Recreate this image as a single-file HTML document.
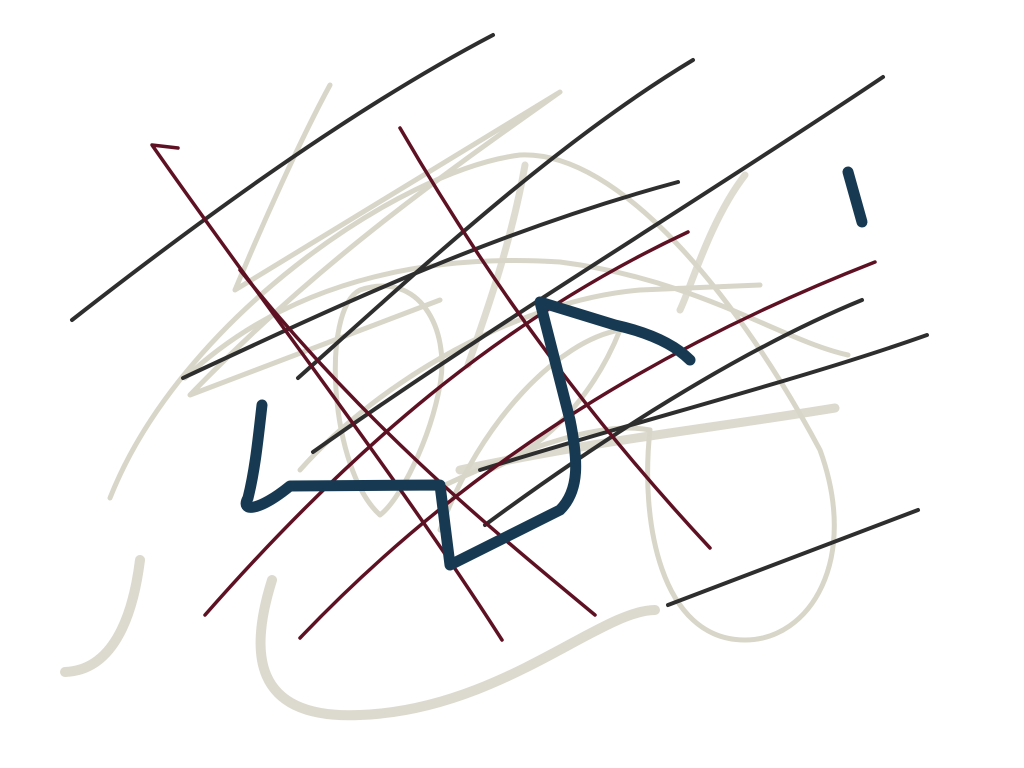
<!DOCTYPE html>
<html><head><meta charset="utf-8"><style>
html,body{margin:0;padding:0;background:#fff;width:1024px;height:768px;overflow:hidden}
svg{display:block}
</style></head><body>
<svg width="1024" height="768" viewBox="0 0 1024 768" fill="none" stroke-linecap="round" stroke-linejoin="round">
<g stroke="#d8d6c9" stroke-width="5">
<path d="M330,85 C300,140 260,230 235,290 L560,92 C450,170 320,260 190,395 L440,300"/>
<path d="M110,498 C180,320 400,170 520,155 C620,150 740,300 820,450 C860,560 810,640 745,640 C660,640 640,520 650,430 C600,420 520,450 445,485"/>
<path d="M185,378 C300,270 450,255 560,262 C700,280 780,340 848,355"/>
<path d="M380,515 C330,470 320,310 360,290 C420,270 450,330 440,385 C430,440 400,500 380,515"/>
<path d="M300,470 C380,380 520,300 640,290 L760,285"/>
<path d="M440,530 C480,420 560,340 620,330 C600,380 560,440 490,470"/>
<path stroke-width="7" opacity="0.85" d="M745,175 C710,220 690,290 680,310 M525,165 C510,250 480,330 468,365"/>
<path stroke-width="9" opacity="0.9" d="M460,470 C600,440 700,430 835,408"/>
<path stroke-width="10" opacity="0.9" d="M65,672 C120,670 135,600 140,560 M272,580 C250,650 250,720 360,715 C500,710 600,610 655,610"/>
</g>
<g stroke="#2e2e2e" stroke-width="4">
<path d="M72,320 C200,220 350,110 493,35"/>
<path d="M298,378 C430,260 560,140 693,60"/>
<path d="M183,378 C350,300 500,230 678,182"/>
<path d="M313,452 C500,320 700,200 883,77"/>
<path d="M485,525 C600,440 740,350 862,300"/>
<path d="M480,470 C640,420 800,380 927,335"/>
<path d="M668,605 C760,570 840,540 918,510"/>
</g>
<g stroke="#5e1123" stroke-width="3.5">
<path d="M178,148 L152,145 C260,300 400,480 502,640"/>
<path d="M400,128 C500,300 600,430 710,548"/>
<path d="M205,615 C350,450 500,320 688,232"/>
<path d="M300,638 C460,470 650,350 875,262"/>
<path d="M240,270 C360,420 480,520 595,615"/>
</g>
<g stroke="#173a52" stroke-width="11">
<path d="M262,405 C258,440 255,470 248,498 C240,512 258,512 290,486 L440,485 L450,565 L560,510 C580,490 578,460 570,420 L540,302 L615,325 C660,335 680,350 690,360"/>
<path d="M848,172 L862,222"/>
</g>
</svg>
</body></html>
